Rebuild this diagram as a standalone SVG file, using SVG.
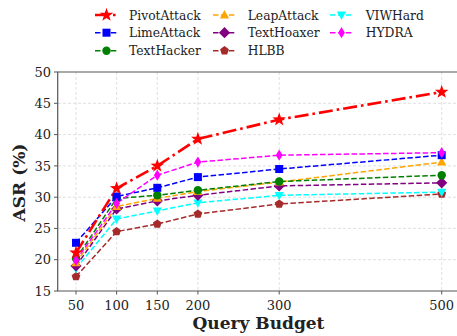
<svg xmlns="http://www.w3.org/2000/svg" xmlns:xlink="http://www.w3.org/1999/xlink" width="457" height="336" viewBox="0 0 457 336">
<style>
text{font-family:"DejaVu Serif",serif;fill:#222}
.tick{font-size:13px}
.leg{font-size:12.3px}
.grid line{stroke:#d8d8d8;stroke-width:0.8;stroke-dasharray:3,2}
.spine{stroke:#555;stroke-width:1.2;fill:none}
.s{fill:none;stroke-width:1.5;stroke-dasharray:5.5,2.4}
.piv{fill:none;stroke:#ff0000;stroke-width:2.6;stroke-dasharray:14,4,2.6,4}
</style>
<defs>
<path id="star" d="M0,-7.2 L1.7,-2.3 6.8,-2.2 2.7,0.9 4.2,5.8 0,2.9 -4.2,5.8 -2.7,0.9 -6.8,-2.2 -1.7,-2.3Z"/>
<rect id="sq" x="-4" y="-4" width="8" height="8"/>
<circle id="ci" r="4.2"/>
<path id="tu" d="M0,-5 L4.6,3.4 -4.6,3.4Z"/>
<path id="td" d="M0,5 L4.6,-3.4 -4.6,-3.4Z"/>
<path id="di" d="M0,-5.6 L5.6,0 0,5.6 -5.6,0Z"/>
<path id="td2" d="M0,-5.6 L3.4,0 0,5.6 -3.4,0Z"/>
<path id="pe" d="M0,-4.6 L4.4,-1.4 2.7,3.7 -2.7,3.7 -4.4,-1.4Z"/>
</defs>

<g id="grid" class="grid">
<line x1="58" y1="103.3" x2="457" y2="103.3"/>
<line x1="58" y1="134.6" x2="457" y2="134.6"/>
<line x1="58" y1="165.9" x2="457" y2="165.9"/>
<line x1="58" y1="197.2" x2="457" y2="197.2"/>
<line x1="58" y1="228.4" x2="457" y2="228.4"/>
<line x1="58" y1="259.7" x2="457" y2="259.7"/>
<line x1="76" y1="72" x2="76" y2="291"/>
<line x1="116.6" y1="72" x2="116.6" y2="291"/>
<line x1="157.3" y1="72" x2="157.3" y2="291"/>
<line x1="197.9" y1="72" x2="197.9" y2="291"/>
<line x1="279.2" y1="72" x2="279.2" y2="291"/>
<line x1="441.7" y1="72" x2="441.7" y2="291"/>
</g>

<g id="axes">
<path class="spine" d="M457,72 H57.7 V291 H457"/>
<g stroke="#555" stroke-width="1">
<line x1="57.7" y1="72" x2="54" y2="72"/>
<line x1="57.7" y1="103.3" x2="54" y2="103.3"/>
<line x1="57.7" y1="134.6" x2="54" y2="134.6"/>
<line x1="57.7" y1="165.9" x2="54" y2="165.9"/>
<line x1="57.7" y1="197.2" x2="54" y2="197.2"/>
<line x1="57.7" y1="228.4" x2="54" y2="228.4"/>
<line x1="57.7" y1="259.7" x2="54" y2="259.7"/>
<line x1="57.7" y1="291" x2="54" y2="291"/>
<line x1="76" y1="291" x2="76" y2="294.5"/>
<line x1="116.6" y1="291" x2="116.6" y2="294.5"/>
<line x1="157.3" y1="291" x2="157.3" y2="294.5"/>
<line x1="197.9" y1="291" x2="197.9" y2="294.5"/>
<line x1="279.2" y1="291" x2="279.2" y2="294.5"/>
<line x1="441.7" y1="291" x2="441.7" y2="294.5"/>
</g>
<g class="tick" text-anchor="end">
<text x="51" y="76.7">50</text>
<text x="51" y="108">45</text>
<text x="51" y="139.3">40</text>
<text x="51" y="170.6">35</text>
<text x="51" y="201.9">30</text>
<text x="51" y="233.1">25</text>
<text x="51" y="264.4">20</text>
<text x="51" y="295.7">15</text>
</g>
<g class="tick" text-anchor="middle">
<text x="76" y="310">50</text>
<text x="116.6" y="310">100</text>
<text x="157.3" y="310">150</text>
<text x="197.9" y="310">200</text>
<text x="279.2" y="310">300</text>
<text x="441.7" y="310">500</text>
</g>
<text x="258.5" y="329" text-anchor="middle" font-size="17" font-weight="bold">Query Budget</text>
<text transform="translate(24.5,182.5) rotate(-90)" text-anchor="middle" font-size="17" font-weight="bold">ASR (%)</text>
</g>

<g id="connectors">
<polyline class="s" stroke="#a52a2a" points="76,276.6 116.6,231.6 157.3,224 197.9,214 279.2,204 441.7,194"/>
<polyline class="s" stroke="#00ffff" points="76,268.5 116.6,219 157.3,210.9 197.9,202.8 279.2,195.3 441.7,192.1"/>
<polyline class="s" stroke="#800080" points="76,266 116.6,209 157.3,200.9 197.9,195.3 279.2,185.9 441.7,182.8"/>
<polyline class="s" stroke="#ffa500" points="76,262.8 116.6,206.5 157.3,198.4 197.9,191.5 279.2,182.1 441.7,162.1"/>
<polyline class="s" stroke="#008000" points="76,258.5 116.6,198.4 157.3,195.3 197.9,190.3 279.2,181.5 441.7,175.2"/>
<polyline class="s" stroke="#0000ff" points="76,242.8 116.6,196.5 157.3,187.8 197.9,177.1 279.2,169 441.7,155.2"/>
<polyline class="s" stroke="#ff00ff" points="76,260.3 116.6,203.4 157.3,175.2 197.9,162.1 279.2,155.2 441.7,152.7"/>
<polyline class="piv" points="76,252.8 116.6,188.4 157.3,165.9 197.9,139 279.2,119.6 441.7,92"/>
</g>

<g id="HLBB" fill="#a52a2a">
<use href="#pe" x="76" y="276.6"/><use href="#pe" x="116.6" y="231.6"/><use href="#pe" x="157.3" y="224"/><use href="#pe" x="197.9" y="214"/><use href="#pe" x="279.2" y="204"/><use href="#pe" x="441.7" y="194"/>
</g>
<g id="VIWHard" fill="#00ffff">
<use href="#td" x="76" y="268.5"/><use href="#td" x="116.6" y="219"/><use href="#td" x="157.3" y="210.9"/><use href="#td" x="197.9" y="202.8"/><use href="#td" x="279.2" y="195.3"/><use href="#td" x="441.7" y="192.1"/>
</g>
<g id="TextHoaxer" fill="#800080">
<use href="#di" x="76" y="266"/><use href="#di" x="116.6" y="209"/><use href="#di" x="157.3" y="200.9"/><use href="#di" x="197.9" y="195.3"/><use href="#di" x="279.2" y="185.9"/><use href="#di" x="441.7" y="182.8"/>
</g>
<g id="LeapAttack" fill="#ffa500">
<use href="#tu" x="76" y="262.8"/><use href="#tu" x="116.6" y="206.5"/><use href="#tu" x="157.3" y="198.4"/><use href="#tu" x="197.9" y="191.5"/><use href="#tu" x="279.2" y="182.1"/><use href="#tu" x="441.7" y="162.1"/>
</g>
<g id="TextHacker" fill="#008000">
<use href="#ci" x="76" y="258.5"/><use href="#ci" x="116.6" y="198.4"/><use href="#ci" x="157.3" y="195.3"/><use href="#ci" x="197.9" y="190.3"/><use href="#ci" x="279.2" y="181.5"/><use href="#ci" x="441.7" y="175.2"/>
</g>
<g id="LimeAttack" fill="#0000ff">
<use href="#sq" x="76" y="242.8"/><use href="#sq" x="116.6" y="196.5"/><use href="#sq" x="157.3" y="187.8"/><use href="#sq" x="197.9" y="177.1"/><use href="#sq" x="279.2" y="169"/><use href="#sq" x="441.7" y="155.2"/>
</g>
<g id="HYDRA" fill="#ff00ff">
<use href="#td2" x="76" y="260.3"/><use href="#td2" x="116.6" y="203.4"/><use href="#td2" x="157.3" y="175.2"/><use href="#td2" x="197.9" y="162.1"/><use href="#td2" x="279.2" y="155.2"/><use href="#td2" x="441.7" y="152.7"/>
</g>
<g id="PivotAttack" fill="#ff0000">
<use href="#star" x="76" y="252.8"/><use href="#star" x="116.6" y="188.4"/><use href="#star" x="157.3" y="165.9"/><use href="#star" x="197.9" y="139"/><use href="#star" x="279.2" y="119.6"/><use href="#star" x="441.7" y="92"/>
</g>

<g id="legend">
<g class="leg">
<text x="129" y="19.5">PivotAttack</text>
<text x="129" y="37">LimeAttack</text>
<text x="129" y="55">TextHacker</text>
<text x="247.7" y="19.5">LeapAttack</text>
<text x="247.7" y="37">TextHoaxer</text>
<text x="247.7" y="55">HLBB</text>
<text x="365.7" y="19.5">VIWHard</text>
<text x="365.7" y="37">HYDRA</text>
</g>
<line x1="95" y1="15" x2="118" y2="15" class="piv"/>
<use href="#star" x="106.5" y="15" fill="#ff0000"/>
<line x1="95" y1="32.7" x2="118" y2="32.7" class="s" stroke="#0000ff"/>
<use href="#sq" x="106.5" y="32.7" fill="#0000ff"/>
<line x1="95" y1="50.7" x2="118" y2="50.7" class="s" stroke="#008000"/>
<use href="#ci" x="106.5" y="50.7" fill="#008000"/>
<line x1="213" y1="15" x2="236" y2="15" class="s" stroke="#ffa500"/>
<use href="#tu" x="224.5" y="15" fill="#ffa500"/>
<line x1="213" y1="32.7" x2="236" y2="32.7" class="s" stroke="#800080"/>
<use href="#di" x="224.5" y="32.7" fill="#800080"/>
<line x1="213" y1="50.7" x2="236" y2="50.7" class="s" stroke="#a52a2a"/>
<use href="#pe" x="224.5" y="50.7" fill="#a52a2a"/>
<line x1="330" y1="15" x2="353" y2="15" class="s" stroke="#00ffff"/>
<use href="#td" x="341.5" y="15" fill="#00ffff"/>
<line x1="330" y1="32.7" x2="353" y2="32.7" class="s" stroke="#ff00ff"/>
<use href="#td2" x="341.5" y="32.7" fill="#ff00ff"/>
</g>
</svg>
